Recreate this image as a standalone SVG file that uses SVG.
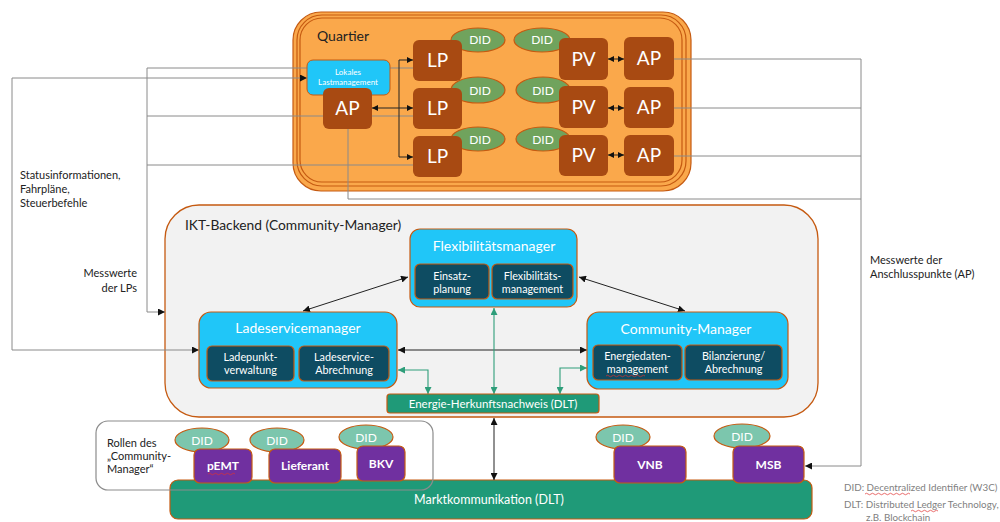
<svg xmlns="http://www.w3.org/2000/svg" width="1000" height="522" viewBox="0 0 1000 522">
  <defs>
    <marker id="ah" viewBox="0 0 10 10" refX="10" refY="5" markerWidth="7" markerHeight="7" markerUnits="userSpaceOnUse" orient="auto-start-reverse">
      <path d="M0,0 L10,5 L0,10 z" fill="#111"/>
    </marker>
    <marker id="ahs" viewBox="0 0 10 10" refX="10" refY="5" markerWidth="6" markerHeight="6" markerUnits="userSpaceOnUse" orient="auto-start-reverse">
      <path d="M0,0 L10,5 L0,10 z" fill="#111"/>
    </marker>
    <marker id="ahg" viewBox="0 0 10 10" refX="10" refY="5" markerWidth="7" markerHeight="7" markerUnits="userSpaceOnUse" orient="auto-start-reverse">
      <path d="M0,0 L10,5 L0,10 z" fill="#2E9E7A"/>
    </marker>
    <style>
      text { font-family: Lato, "Open Sans", "Liberation Sans", sans-serif; }
      .quartier { fill: #FAA84B; stroke: #C55A11; stroke-width: 1.2; }
      .backend { fill: #F2F2F2; stroke: #C55A11; stroke-width: 1.3; }
      .brown { fill: #A84A12; stroke: none; }
      .big { fill: #fff; font-size: 19px; text-anchor: middle; }
      .did { fill: #70A35D; stroke: #C55A11; stroke-width: 1.2; }
      .did2 { fill: #7CC6AD; stroke: #C55A11; stroke-width: 1.2; }
      .didt { fill: #fff; font-size: 12px; text-anchor: middle; }
      .cyan { fill: #20C6F8; stroke: #C55A11; stroke-width: 1.2; }
      .dark { fill: #0E4C62; stroke: #C55A11; stroke-width: 1.2; }
      .title { fill: #fff; font-size: 14px; text-anchor: middle; }
      .sub { fill: #fff; font-size: 10.8px; text-anchor: middle; }
      .dlt { fill: #1F9A78; stroke: #C55A11; stroke-width: 1.2; }
      .role { fill: #7030A0; stroke: #C55A11; stroke-width: 1.2; }
      .rolet { fill: #fff; font-size: 12px; font-weight: bold; text-anchor: middle; }
      .lbl { fill: #222; font-size: 11px; }
      .legend { fill: #7F7F7F; font-size: 9.8px; }
      .gray { fill: none; stroke: #8A8A8A; stroke-width: 1; }
      .blk { fill: none; stroke: #222; stroke-width: 1; }
      .grn { fill: none; stroke: #2E9E7A; stroke-width: 1.1; }
      .spell { fill: none; stroke: #E03030; stroke-width: 0.7; }
    </style>
  </defs>

  <rect width="1000" height="522" fill="#fff"/>

  <!-- containers -->
  <g id="quartier">
    <rect class="quartier" x="293" y="12" width="398" height="179" rx="28"/>
    <rect class="quartier" x="297" y="15" width="389" height="171" rx="25"/>
    <rect class="quartier" x="300" y="18" width="382" height="164" rx="22"/>
    <text x="317" y="41" font-size="14" fill="#222">Quartier</text>
  </g>

  <g id="ikt-backend">
    <rect class="backend" x="165" y="205" width="653" height="212" rx="34"/>
    <text x="185" y="230" font-size="13.8" fill="#222">IKT-Backend (Community-Manager)</text>
  </g>

  <g id="rollen">
    <rect x="96" y="421" width="337" height="69" rx="12" fill="#fff" stroke="none"/>
    <text class="lbl" x="107" y="447">Rollen des</text>
    <text class="lbl" x="107" y="460">„Community-</text>
    <text class="lbl" x="107" y="473">Manager“</text>
  </g>

  <g id="marktkommunikation">
    <rect class="dlt" x="170" y="480" width="642" height="39" rx="8"/>
    <text x="489" y="504" font-size="12.5" fill="#fff" text-anchor="middle">Marktkommunikation (DLT)</text>
  </g>
  <!-- outline of the role frame runs over the bar -->
  <rect x="96" y="421" width="337" height="69" rx="12" fill="none" stroke="#8C8C8C" stroke-width="1.2"/>

  <!-- connectors -->
  <g id="connectors">
    <!-- status info / schedules / control commands -->
    <path class="gray" d="M199,350 H12 V78 H307" marker-start="url(#ah)" marker-end="url(#ah)"/>
    <!-- meter values of the charging points -->
    <path class="gray" d="M413,68 H147 V312 H165" marker-end="url(#ah)"/>
    <path class="gray" d="M413,116 H147"/>
    <path class="gray" d="M413,165 H147"/>
    <!-- meter values of the connection points -->
    <path class="gray" d="M674,59 H861 V466 H805" marker-end="url(#ah)"/>
    <path class="gray" d="M674,108 H861"/>
    <path class="gray" d="M674,156 H861"/>
    <path class="gray" d="M348,128 V199 H861"/>
    <!-- local load management to charging points -->
    <path class="blk" d="M413,60 H399 V157 H413" marker-start="url(#ahs)" marker-end="url(#ahs)"/>
    <path class="blk" d="M372,108 H413" marker-start="url(#ahs)" marker-end="url(#ahs)"/>
    <!-- PV to connection point -->
    <path class="blk" d="M608,59 H624" marker-start="url(#ahs)" marker-end="url(#ahs)"/>
    <path class="blk" d="M608,108 H624" marker-start="url(#ahs)" marker-end="url(#ahs)"/>
    <path class="blk" d="M608,155 H624" marker-start="url(#ahs)" marker-end="url(#ahs)"/>
    <!-- backend internal -->
    <path class="blk" d="M408,277 L303,311" marker-start="url(#ah)" marker-end="url(#ah)"/>
    <path class="blk" d="M579,277 L685,311" marker-start="url(#ah)" marker-end="url(#ah)"/>
    <path class="blk" d="M398,350 H587" marker-start="url(#ah)" marker-end="url(#ah)"/>
    <path class="grn" d="M494,308 V394" marker-start="url(#ahg)" marker-end="url(#ahg)"/>
    <path class="grn" d="M398,370 H428 V394" marker-start="url(#ahg)" marker-end="url(#ahg)"/>
    <path class="grn" d="M587,368 H560 V394" marker-start="url(#ahg)" marker-end="url(#ahg)"/>
    <!-- backend to market communication -->
    <path class="blk" d="M494,418 V480" marker-start="url(#ah)" marker-end="url(#ah)"/>
  </g>

  <!-- quartier nodes -->
  <g id="did-q1"><ellipse class="did" cx="478" cy="40" rx="27" ry="12"/><text class="didt" x="480" y="44">DID</text></g>
  <g id="did-q2"><ellipse class="did" cx="542" cy="40" rx="28" ry="12"/><text class="didt" x="542" y="44">DID</text></g>
  <g id="did-q3"><ellipse class="did" cx="478" cy="90" rx="27" ry="13"/><text class="didt" x="480" y="95">DID</text></g>
  <g id="did-q4"><ellipse class="did" cx="543" cy="90" rx="27" ry="13"/><text class="didt" x="543" y="95">DID</text></g>
  <g id="did-q5"><ellipse class="did" cx="478" cy="139" rx="27" ry="12"/><text class="didt" x="480" y="144">DID</text></g>
  <g id="did-q6"><ellipse class="did" cx="543" cy="139" rx="27" ry="12"/><text class="didt" x="543" y="144">DID</text></g>

  <g id="lastmanagement">
    <rect x="307" y="60" width="83" height="35" rx="6" fill="#20C6F8" stroke="#C55A11" stroke-width="1"/>
    <text x="348" y="75" font-size="8" fill="#fff" text-anchor="middle">Lokales</text>
    <text x="348" y="85" font-size="8" fill="#fff" text-anchor="middle">Lastmanagement</text>
  </g>
  <g id="ap-0"><rect class="brown" x="323" y="88" width="49" height="41" rx="6"/><text class="big" x="347.5" y="115">AP</text></g>

  <g id="lp-1"><rect class="brown" x="413" y="40" width="49" height="41" rx="6"/><text class="big" x="437.5" y="67">LP</text></g>
  <g id="lp-2"><rect class="brown" x="413" y="88" width="49" height="41" rx="6"/><text class="big" x="437.5" y="115">LP</text></g>
  <g id="lp-3"><rect class="brown" x="413" y="136" width="49" height="41" rx="6"/><text class="big" x="437.5" y="163">LP</text></g>

  <g id="pv-1"><rect class="brown" x="559" y="38" width="49" height="42" rx="6"/><text class="big" x="583.5" y="66">PV</text></g>
  <g id="pv-2"><rect class="brown" x="559" y="86" width="49" height="42" rx="6"/><text class="big" x="583.5" y="114">PV</text></g>
  <g id="pv-3"><rect class="brown" x="559" y="135" width="49" height="41" rx="6"/><text class="big" x="583.5" y="162">PV</text></g>

  <g id="ap-1"><rect class="brown" x="624" y="37" width="50" height="43" rx="6"/><text class="big" x="649" y="65">AP</text></g>
  <g id="ap-2"><rect class="brown" x="624" y="87" width="50" height="41" rx="6"/><text class="big" x="649" y="114">AP</text></g>
  <g id="ap-3"><rect class="brown" x="624" y="135" width="50" height="41" rx="6"/><text class="big" x="649" y="162">AP</text></g>

  <!-- backend nodes -->
  <g id="flexibilitaetsmanager">
    <rect class="cyan" x="410" y="229" width="167" height="78" rx="10"/>
    <text class="title" x="494" y="251">Flexibilitätsmanager</text>
    <rect class="dark" x="415" y="264" width="74" height="35" rx="5"/>
    <text class="sub" x="452" y="280">Einsatz-</text>
    <text class="sub" x="452" y="293">planung</text>
    <rect class="dark" x="492" y="264" width="81" height="35" rx="5"/>
    <text class="sub" x="532.5" y="280">Flexibilitäts-</text>
    <text class="sub" x="532.5" y="293">management</text>
  </g>

  <g id="ladeservicemanager">
    <rect class="cyan" x="199" y="312" width="198" height="76" rx="12"/>
    <text class="title" x="298" y="333">Ladeservicemanager</text>
    <rect class="dark" x="207" y="346" width="87" height="35" rx="5"/>
    <text class="sub" x="250.5" y="361">Ladepunkt-</text>
    <text class="sub" x="250.5" y="374">verwaltung</text>
    <rect class="dark" x="299" y="346" width="90" height="35" rx="5"/>
    <text class="sub" x="344" y="361">Ladeservice-</text>
    <text class="sub" x="344" y="374">Abrechnung</text>
  </g>

  <g id="community-manager">
    <rect class="cyan" x="587" y="312" width="201" height="77" rx="12"/>
    <text class="title" x="686" y="334">Community-Manager</text>
    <rect class="dark" x="593" y="345" width="89" height="35" rx="5"/>
    <text class="sub" x="637.5" y="360">Energiedaten-</text>
    <text class="sub" x="637.5" y="373">management</text>
    <path class="spell" d="M606,376 q1.5,-1.5 3,0 t3,0 t3,0 t3,0 t3,0 t3,0 t3,0 t3,0 t3,0 t3,0 t3,0 t3,0 t3,0"/>
    <rect class="dark" x="685" y="345" width="97" height="35" rx="5"/>
    <text class="sub" x="733.5" y="360">Bilanzierung/</text>
    <text class="sub" x="733.5" y="373">Abrechnung</text>
  </g>

  <g id="herkunftsnachweis">
    <rect class="dlt" x="387" y="394" width="212" height="19" rx="3"/>
    <text x="493" y="408" font-size="11.5" fill="#fff" text-anchor="middle">Energie-Herkunftsnachweis (DLT)</text>
  </g>

  <!-- market roles -->
  <g id="did-pemt"><ellipse class="did2" cx="202" cy="440" rx="27" ry="12"/><text class="didt" x="202" y="445">DID</text></g>
  <g id="pemt">
    <rect class="role" x="194" y="449" width="58" height="34" rx="6"/>
    <text class="rolet" x="223" y="470">pEMT</text>
    <path class="spell" d="M208,474 q1.5,-1.5 3,0 t3,0 t3,0 t3,0 t3,0 t3,0 t3,0 t3,0 t3,0"/>
  </g>
  <g id="did-lieferant"><ellipse class="did2" cx="277" cy="440" rx="27" ry="12"/><text class="didt" x="277" y="445">DID</text></g>
  <g id="lieferant"><rect class="role" x="269" y="449" width="72" height="34" rx="6"/><text class="rolet" x="305" y="470">Lieferant</text></g>
  <g id="did-bkv"><ellipse class="did2" cx="366" cy="437" rx="27" ry="12"/><text class="didt" x="366" y="442">DID</text></g>
  <g id="bkv"><rect class="role" x="357" y="446" width="48" height="35" rx="6"/><text class="rolet" x="381" y="468">BKV</text></g>
  <g id="did-vnb"><ellipse class="did2" cx="623" cy="437" rx="27" ry="12"/><text class="didt" x="623" y="442">DID</text></g>
  <g id="vnb"><rect class="role" x="614" y="446" width="72" height="37" rx="6"/><text class="rolet" x="650" y="469">VNB</text></g>
  <g id="did-msb"><ellipse class="did2" cx="742" cy="436" rx="28" ry="12"/><text class="didt" x="742" y="441">DID</text></g>
  <g id="msb"><rect class="role" x="733" y="446" width="71" height="37" rx="6"/><text class="rolet" x="768.5" y="469">MSB</text></g>

  <!-- side labels -->
  <g id="labels">
    <text class="lbl" x="20" y="179">Statusinformationen,</text>
    <text class="lbl" x="20" y="193">Fahrpläne,</text>
    <text class="lbl" x="20" y="207">Steuerbefehle</text>
    <text class="lbl" x="137" y="277" text-anchor="end">Messwerte</text>
    <text class="lbl" x="137" y="292" text-anchor="end">der LPs</text>
    <text class="lbl" x="870" y="264">Messwerte der</text>
    <text class="lbl" x="870" y="278">Anschlusspunkte (AP)</text>
  </g>

  <!-- legend -->
  <g id="legend">
    <text class="legend" x="844" y="491">DID: Decentralized Identifier (W3C)</text>
    <path class="spell" d="M865,494 q1.5,-1.5 3,0 t3,0 t3,0 t3,0 t3,0 t3,0 t3,0 t3,0 t3,0 t3,0 t3,0 t3,0 t3,0 t3,0 t3,0"/>
    <text class="legend" x="844" y="508">DLT: Distributed Ledger Technology,</text>
    <path class="spell" d="M911,511 q1.5,-1.5 3,0 t3,0 t3,0 t3,0 t3,0 t3,0 t3,0 t3,0 t3,0"/>
    <text class="legend" x="866" y="521">z.B. Blockchain</text>
  </g>
</svg>
